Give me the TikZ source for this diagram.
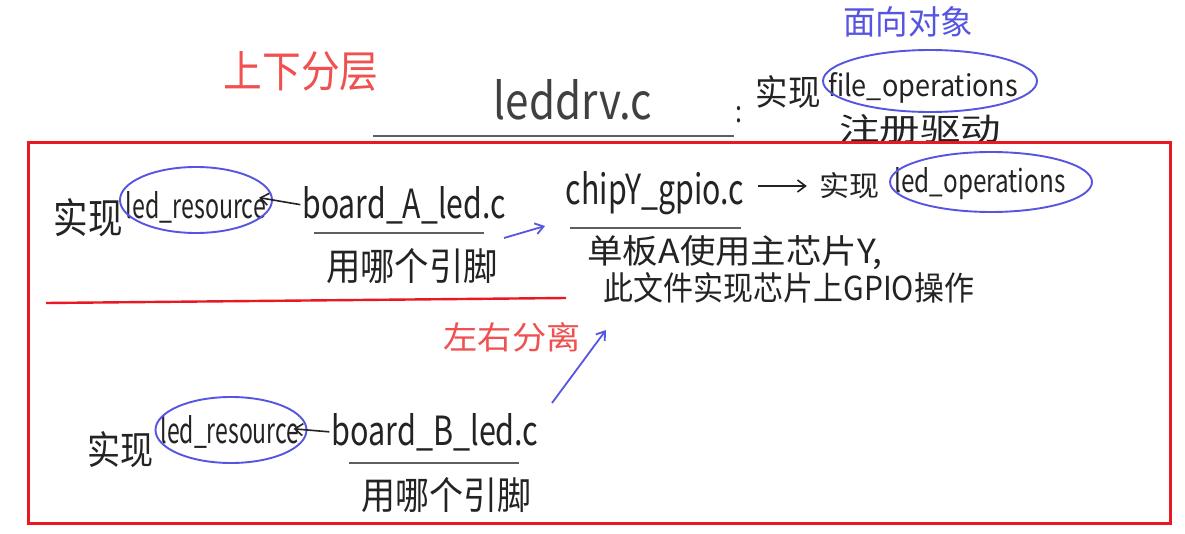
\documentclass[tikz,border=0pt]{standalone}
\usepackage{fontspec}
\setmainfont{Noto Sans CJK SC}
\usetikzlibrary{arrows.meta,shapes.geometric}
\definecolor{ink}{RGB}{35,35,35}
\definecolor{hred}{RGB}{240,80,80}
\definecolor{bred}{RGB}{232,25,35}
\definecolor{hblue}{RGB}{85,85,225}
\definecolor{rulec}{RGB}{95,95,95}
\newcommand{\tx}[3]{\resizebox{#1pt}{#2pt}{#3}}
\begin{document}
\begin{tikzpicture}[x=1pt,y=-1pt,
  txt/.style={inner sep=0pt,anchor=center,text=ink},
  redtxt/.style={inner sep=0pt,anchor=center,text=hred},
  bluetxt/.style={inner sep=0pt,anchor=center,text=hblue},
  ell/.style={draw=hblue,line width=1.9pt,ellipse,inner sep=0pt},
  uline/.style={draw=rulec,line width=1.8pt},
  harrow/.style={draw=ink,line width=1.6pt,-{Straight Barb[length=8pt,width=12pt]}},
  barrow/.style={draw=hblue,line width=1.8pt,-{Straight Barb[length=8pt,width=11pt]}}]
\useasboundingbox (0,0) rectangle (1185,534);
\fill[white] (0,0) rectangle (1185,534);

% top part
\node[redtxt] (layer) at (301,71) {\tx{155}{36}{上下分层}};
\node[txt,text=black!75] (leddrv) at (573,100) {\tx{158}{40}{leddrv.c}};
\draw[uline] (373,136) -- (734,136);
\node[txt] (colon) at (739,115) {\tx{7}{16}{:}};
\node[txt] (impF) at (788,92) {\tx{65}{30}{实现}};
\node[txt] (fops) at (923,88) {\tx{190}{24}{file\_operations}};
\node[ell,minimum width=214pt,minimum height=62pt] (ellF) at (930,81) {};
\node[bluetxt] (oop) at (908,22) {\tx{130}{28}{面向对象}};
\node[txt] (reg) at (920,129) {\tx{162}{26}{注册驱动}};

% red frame
\draw[bred,line width=3pt] (28,143) rectangle (1170,523);

% board A row
\node[txt] (impA) at (88,218) {\tx{69}{35}{实现}};
\node[txt] (resA) at (196,207) {\tx{140}{27}{led\_resource}};
\node[ell,minimum width=152pt,minimum height=66pt] (ellA) at (196,200) {};
\node[txt] (bA) at (404,205) {\tx{203}{32}{board\_A\_led.c}};
\draw[uline] (314,233) -- (484,233);
\node[txt] (pinA) at (412,266) {\tx{172}{32}{用哪个引脚}};
\draw[harrow,shorten <=2pt,shorten >=-14pt] (bA.west) -- (ellA.east);

\coordinate (sA) at (504,238);
\coordinate (tA) at (545,226);
\draw[barrow] (sA) -- (tA);

% chip Y
\node[txt] (chip) at (655,193) {\tx{178}{33}{chipY\_gpio.c}};
\draw[uline] (570,228) -- (741,228);
\node[txt] (impC) at (849,186) {\tx{60}{24}{实现}};
\node[txt] (lops) at (980,184) {\tx{171}{25}{led\_operations}};
\node[ell,minimum width=202pt,minimum height=60pt] (ellC) at (991,182) {};
\draw[harrow,shorten <=14pt,shorten >=12pt] (chip.east |- impC.west) -- (impC.west);
\node[txt] (note1) at (735,253) {\tx{295}{28}{单板A使用主芯片Y,}};
\node[txt] (note2) at (789,288) {\tx{370}{28}{此文件实现芯片上GPIO操作}};

% separator
\draw[bred,line width=2.4pt] (46,303) -- (566,298);
\node[redtxt] (lr) at (512,337) {\tx{137}{27}{左右分离}};

% board B row
\node[txt] (impB) at (120,450) {\tx{66}{33}{实现}};
\node[txt] (resB) at (230,432) {\tx{139}{28}{led\_resource}};
\node[ell,minimum width=151pt,minimum height=66pt] (ellB) at (231,430) {};
\node[txt] (bB) at (435,432) {\tx{207}{32}{board\_B\_led.c}};
\draw[uline] (349,463) -- (519,463);
\node[txt] (pinB) at (446,495) {\tx{170}{32}{用哪个引脚}};
\draw[harrow,shorten <=2pt,shorten >=-14pt] (bB.west) -- (ellB.east);

\coordinate (sB) at (552,403);
\coordinate (tB) at (606,330);
\draw[barrow] (sB) -- (tB);
\end{tikzpicture}
\end{document}
